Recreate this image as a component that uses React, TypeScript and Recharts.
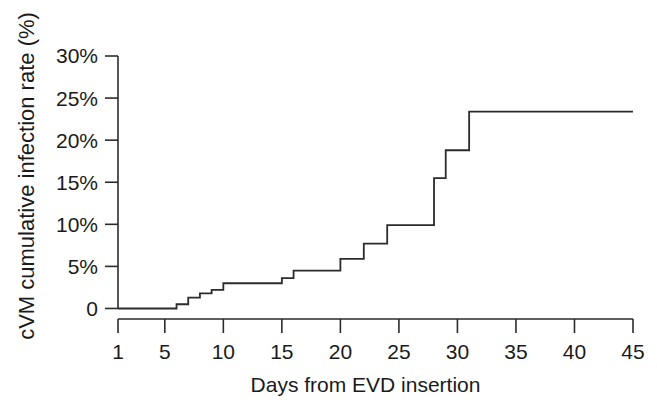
import {
  Label,
  Line,
  LineChart,
  ReferenceLine,
  XAxis,
  YAxis,
} from "recharts";

// days from EVD insertion where the cumulative rate changes
const DAYS = [1, 6, 7, 8, 9, 10, 15, 16, 20, 22, 24, 28, 29, 31, 45];
// cumulative infection rate (%) from that day on
const RATES = [0, 0.5, 1.3, 1.8, 2.2, 3.0, 3.6, 4.5, 5.9, 7.7, 9.9, 15.5, 18.8, 23.4, 23.4];

const X_TICKS = [1, 5, 10, 15, 20, 25, 30, 35, 40, 45];
const Y_TICKS = [0, 5, 10, 15, 20, 25, 30];

const X_TITLE = "Days from EVD insertion";
const Y_TITLE = "cVM cumulative infection rate (%)";

const data = DAYS.map((day, i) => ({ day, rate: RATES[i] }));

const INK = "#1a1a1a";
const LINE = "#2b2b2b";
const FONT = "'Liberation Sans', Arial, Helvetica, sans-serif";

function YTitle({ viewBox }: { viewBox?: { x: number; y: number; height: number } }) {
  if (!viewBox) return null;
  const x = viewBox.x + 26;
  const y = 176;
  return (
    <text
      x={x}
      y={y}
      transform={`rotate(-90 ${x} ${y})`}
      textAnchor="middle"
      dominantBaseline="central"
      fill={INK}
      fontSize={22}
      fontFamily={FONT}
    >
      {Y_TITLE}
    </text>
  );
}

/** Step curve of cumulative cVM infection rate over days since EVD insertion. */
export default function App() {
  return (
    <div style={{ position: "absolute", left: 0, top: 0, background: "#fff" }}>
      <LineChart
        width={657}
        height={404}
        data={data}
        margin={{ top: 56, right: 24, left: 0, bottom: 0 }}
        style={{ fontFamily: FONT }}
      >
        <XAxis
          dataKey="day"
          type="number"
          domain={[1, 45]}
          ticks={X_TICKS}
          interval={0}
          height={85}
          tickSize={14}
          tickMargin={11}
          tick={{ fontSize: 21, fill: INK }}
          axisLine={{ stroke: LINE, strokeWidth: 1.6 }}
          tickLine={{ stroke: LINE, strokeWidth: 1.6 }}
        >
          <Label
            value={X_TITLE}
            position="insideBottom"
            offset={12}
            dx={-10}
            fontSize={21}
            fill={INK}
          />
        </XAxis>
        <YAxis
          type="number"
          domain={[-1.25, 30]}
          ticks={Y_TICKS}
          interval={0}
          width={118}
          tickSize={13}
          tickMargin={7}
          tick={{ fontSize: 21, fill: INK }}
          tickFormatter={(v: number) => (v === 0 ? "0" : `${v}%`)}
          axisLine={false}
          tickLine={{ stroke: LINE, strokeWidth: 1.6 }}
        >
          <Label content={<YTitle />} />
        </YAxis>
        <ReferenceLine
          segment={[
            { x: 1, y: 0 },
            { x: 1, y: 30 },
          ]}
          stroke={LINE}
          strokeWidth={1.6}
        />
        <Line
          type="stepAfter"
          dataKey="rate"
          stroke={LINE}
          strokeWidth={1.8}
          dot={false}
          activeDot={false}
          isAnimationActive={false}
        />
      </LineChart>
    </div>
  );
}
